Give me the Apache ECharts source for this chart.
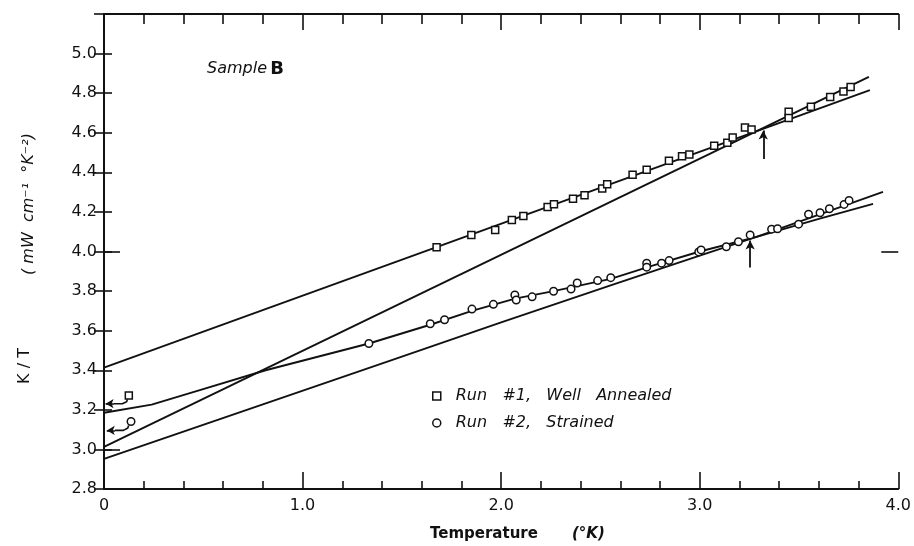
<!DOCTYPE html>
<html><head><meta charset="utf-8">
<script src="https://cdn.jsdelivr.net/npm/echarts@6/dist/echarts.min.js"></script>
<style>html,body{margin:0;padding:0;background:#fff}#c{width:914px;height:546px}</style>
</head><body><div id="c"></div>
<script>
// ---- data ----
const run1T = [0.125, 1.675, 1.850, 1.970, 2.054, 2.112, 2.234, 2.266, 2.362, 2.420, 2.509, 2.534, 2.662, 2.733, 2.845, 2.911, 2.948, 3.073, 3.139, 3.166, 3.228, 3.261, 3.448, 3.448, 3.560, 3.657, 3.724, 3.760];
const run1K = [3.272, 4.022, 4.084, 4.109, 4.159, 4.179, 4.225, 4.239, 4.266, 4.284, 4.318, 4.340, 4.388, 4.413, 4.458, 4.481, 4.490, 4.534, 4.549, 4.576, 4.627, 4.617, 4.706, 4.674, 4.731, 4.781, 4.808, 4.831];
const run2T = [0.136, 1.334, 1.643, 1.715, 1.853, 1.961, 2.069, 2.076, 2.156, 2.264, 2.352, 2.383, 2.486, 2.552, 2.733, 2.733, 2.808, 2.846, 2.995, 3.007, 3.134, 3.195, 3.254, 3.362, 3.392, 3.498, 3.548, 3.606, 3.653, 3.727, 3.752];
const run2K = [3.141, 3.535, 3.635, 3.655, 3.709, 3.733, 3.780, 3.755, 3.771, 3.799, 3.810, 3.841, 3.853, 3.868, 3.941, 3.921, 3.941, 3.954, 3.998, 4.008, 4.024, 4.049, 4.084, 4.113, 4.115, 4.138, 4.188, 4.196, 4.216, 4.238, 4.258];

const fitA_T = [0, 3.857];
const fitA_K = [3.413, 4.815];
const fitB_T = [0, 3.852];
const fitB_K = [3.013, 4.882];
const curveU_T = [0, 0.24, 0.47, 0.814, 1.334, 1.643, 1.853, 2.07, 2.264, 2.552, 2.75, 3.0, 3.286, 3.923];
const curveU_K = [3.185, 3.226, 3.296, 3.400, 3.535, 3.630, 3.700, 3.762, 3.800, 3.862, 3.925, 4.000, 4.074, 4.301];
const curveL_T = [0, 0.8, 1.471, 2.0, 2.57, 3.0, 3.286, 3.6, 3.873];
const curveL_K = [2.952, 3.228, 3.459, 3.642, 3.835, 3.979, 4.074, 4.165, 4.241];

const hook1_T = [0.118, 0.114, 0.105, 0.092, 0.05];
const hook1_K = [3.254, 3.241, 3.234, 3.231, 3.231];
const hook1Tip = 0.008;
const hook2_T = [0.124, 0.120, 0.112, 0.098, 0.055];
const hook2_K = [3.121, 3.108, 3.100, 3.096, 3.096];
const hook2Tip = 0.014;

// vertical arrows: [T, tail K, head K]
const arrowsUp = [[3.32, 4.467, 4.611], [3.254, 3.919, 4.056]];

const xMin = 0, xMax = 4.0, xStep = 1.0;
const yMin = 2.8, yMax = 5.2, yStep = 0.2;
const yLongTicksLeft = [3.0, 4.0];
const yLongTicksRight = [4.0];

const seriesNames = ['Run   #1,   Well   Annealed', 'Run   #2,   Strained'];

// ---- build ----
const zip = (a, b) => a.map((v, i) => [v, b[i]]);
const BLACK = '#111';
const FONT = 'DejaVu Sans';

const lineSeries = (t, k, extra) => Object.assign({
  type: 'line', data: zip(t, k), symbol: 'none', silent: true,
  lineStyle: { color: BLACK, width: 1.9, join: 'round' }, z: 3
}, extra || {});

const chart = echarts.init(document.getElementById('c'), null, { renderer: 'canvas' });

const axisCommon = {
  type: 'value', splitLine: { show: false },
  axisLine: { show: true, lineStyle: { color: BLACK, width: 2 } }
};

chart.setOption({
  animation: false,
  backgroundColor: '#fff',
  grid: { left: 104, right: 7, top: 14, bottom: 57 },
  xAxis: [
    Object.assign({}, axisCommon, {
      position: 'bottom', min: xMin, max: xMax, interval: xStep,
      axisTick: { show: true, inside: true, length: 17, lineStyle: { color: BLACK, width: 1.6 } },
      minorTick: { show: true, splitNumber: 5, length: 8, lineStyle: { color: BLACK, width: 1.6 } },
      axisLabel: { show: true, margin: 9, color: BLACK, fontSize: 16, fontFamily: FONT,
        formatter: v => v === 0 ? '0' : v.toFixed(1) }
    }),
    Object.assign({}, axisCommon, {
      position: 'top', min: xMin, max: xMax, interval: xStep,
      axisTick: { show: true, inside: true, length: 16, lineStyle: { color: BLACK, width: 1.6 } },
      minorTick: { show: true, splitNumber: 5, length: 10, lineStyle: { color: BLACK, width: 1.6 } },
      axisLabel: { show: false }
    })
  ],
  yAxis: [
    Object.assign({}, axisCommon, {
      position: 'left', min: yMin, max: yMax, interval: yStep,
      axisTick: { show: true, inside: true, length: 8, lineStyle: { color: BLACK, width: 1.6 } },
      axisLabel: { show: true, margin: 7, color: BLACK, fontSize: 16, fontFamily: FONT, showMaxLabel: false,
        formatter: v => v.toFixed(1) }
    }),
    Object.assign({}, axisCommon, {
      position: 'right', min: yMin, max: yMax, interval: yStep,
      axisTick: { show: true, inside: true, length: 10, lineStyle: { color: BLACK, width: 1.6 } },
      axisLabel: { show: false }
    }),
    Object.assign({}, axisCommon, {
      position: 'left', min: yMin, max: yMax, axisLine: { show: false },
      axisTick: { show: true, inside: true, length: 16, customValues: yLongTicksLeft, lineStyle: { color: BLACK, width: 1.6 } },
      axisLabel: { show: false }
    }),
    Object.assign({}, axisCommon, {
      position: 'right', min: yMin, max: yMax, axisLine: { show: false },
      axisTick: { show: true, inside: true, length: 17, customValues: yLongTicksRight, lineStyle: { color: BLACK, width: 1.6 } },
      axisLabel: { show: false }
    })
  ],
  legend: {
    orient: 'vertical', left: 427, top: 383, itemWidth: 8, itemHeight: 8, itemGap: 11,
    selectedMode: false,
    textStyle: { fontSize: 16, fontStyle: 'italic', fontFamily: FONT, color: BLACK, padding: [0, 0, 0, 10] },
    data: [
      { name: seriesNames[0], icon: 'rect', itemStyle: { color: '#fff', borderColor: BLACK, borderWidth: 1.5 } },
      { name: seriesNames[1], icon: 'circle', itemStyle: { color: '#fff', borderColor: BLACK, borderWidth: 1.5 } }
    ]
  },
  series: [
    lineSeries(fitA_T, fitA_K, {
      markLine: {
        silent: true, symbol: ['none', 'arrow'], symbolSize: [7, 9], label: { show: false },
        lineStyle: { color: BLACK, width: 1.8, type: 'solid' },
        data: arrowsUp.map(a => [{ coord: [a[0], a[1]] }, { coord: [a[0], a[2]] }])
      }
    }),
    lineSeries(fitB_T, fitB_K),
    lineSeries(curveU_T, curveU_K),
    lineSeries(curveL_T, curveL_K),
    lineSeries(hook1_T, hook1_K, {
      lineStyle: { color: BLACK, width: 1.6, join: 'round' },
      markLine: {
        silent: true, symbol: ['none', 'arrow'], symbolSize: [7, 8], label: { show: false },
        lineStyle: { color: BLACK, width: 1.6, type: 'solid' },
        data: [[{ coord: [hook1_T[hook1_T.length - 1], hook1_K[hook1_K.length - 1]] }, { coord: [hook1Tip, hook1_K[hook1_K.length - 1]] }]]
      }
    }),
    lineSeries(hook2_T, hook2_K, {
      lineStyle: { color: BLACK, width: 1.6, join: 'round' },
      markLine: {
        silent: true, symbol: ['none', 'arrow'], symbolSize: [7, 8], label: { show: false },
        lineStyle: { color: BLACK, width: 1.6, type: 'solid' },
        data: [[{ coord: [hook2_T[hook2_T.length - 1], hook2_K[hook2_K.length - 1]] }, { coord: [hook2Tip, hook2_K[hook2_K.length - 1]] }]]
      }
    }),
    { type: 'scatter', name: seriesNames[0], data: zip(run1T, run1K), symbol: 'rect', symbolSize: 7, z: 5,
      itemStyle: { color: '#fff', borderColor: BLACK, borderWidth: 1.5, opacity: 1 } },
    { type: 'scatter', name: seriesNames[1], data: zip(run2T, run2K), symbol: 'circle', symbolSize: 7.5, z: 5,
      itemStyle: { color: '#fff', borderColor: BLACK, borderWidth: 1.5, opacity: 1 } }
  ],
  graphic: [
    { type: 'text', left: 207, top: 60, silent: true,
      style: { text: '{i|Sample} {b|B}', fill: BLACK,
        rich: { i: { fontSize: 16, fontStyle: 'italic', fontFamily: FONT, fill: BLACK },
                b: { fontSize: 18, fontWeight: 'bold', fontFamily: FONT, fill: BLACK } } } },
    { type: 'text', x: 430, y: 534, silent: true,
      style: { text: 'Temperature', fontSize: 15, fontWeight: 'bold', fontFamily: FONT, fill: BLACK, verticalAlign: 'middle' } },
    { type: 'text', x: 572, y: 534, silent: true,
      style: { text: '(°K)', fontSize: 15, fontStyle: 'italic', fontWeight: 'bold', fontFamily: FONT, fill: BLACK, verticalAlign: 'middle' } },
    { type: 'text', x: 25, y: 366, rotation: Math.PI / 2, silent: true,
      style: { text: 'K / T', fontSize: 16, fontFamily: FONT, fill: BLACK, align: 'center', verticalAlign: 'middle' } },
    { type: 'text', x: 29, y: 204, rotation: Math.PI / 2, silent: true,
      style: { text: '( mW  cm⁻¹  °K⁻²)', fontSize: 16, fontStyle: 'italic', fontFamily: FONT, fill: BLACK, align: 'center', verticalAlign: 'middle' } }
  ]
});
</script>
</body></html>
